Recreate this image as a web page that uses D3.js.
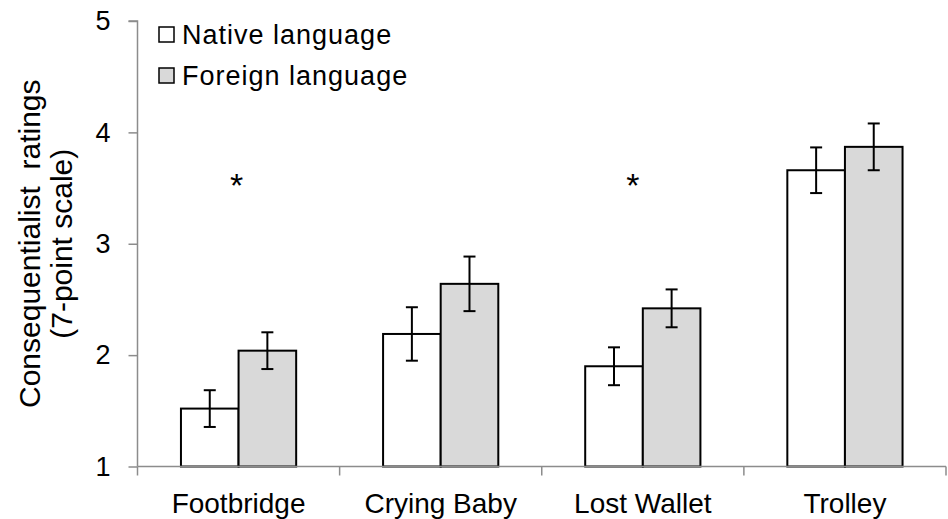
<!DOCTYPE html>
<html>
<head>
<meta charset="utf-8">
<script src="https://cdn.jsdelivr.net/npm/d3@7"></script>
<style>
  body { margin: 0; background: #fff; }
  svg text { font-family: "Liberation Sans", Arial, sans-serif; fill: #000; }
</style>
</head>
<body>
<div id="chart"></div>
<script>
// data
const categories = ["Footbridge", "Crying Baby", "Lost Wallet", "Trolley"];
const series = ["Native language", "Foreign language"];
const nativeMeans = [1.52, 2.19, 1.90, 3.66];
const foreignMeans = [2.04, 2.64, 2.42, 3.87];
const nativeErr = [0.165, 0.24, 0.17, 0.205];
const foreignErr = [0.165, 0.245, 0.17, 0.21];
const starred = ["Footbridge", "Lost Wallet"];
const yTicks = [1, 2, 3, 4, 5];

const width = 948, height = 519;
const margin = { top: 21, right: 2, bottom: 52.5, left: 137.5 };

const rows = [];
categories.forEach((c, i) => {
  rows.push({ cat: c, s: series[0], v: nativeMeans[i], e: nativeErr[i] });
  rows.push({ cat: c, s: series[1], v: foreignMeans[i], e: foreignErr[i] });
});

const svg = d3.select("#chart").append("svg")
  .attr("width", width)
  .attr("height", height);

const x0 = d3.scaleBand()
  .domain(categories)
  .range([margin.left, width - margin.right])
  .paddingInner(0.43)
  .paddingOuter(0.215);

const x1 = d3.scaleBand()
  .domain(series)
  .range([0, x0.bandwidth()]);

const y = d3.scaleLinear()
  .domain([1, 5])
  .range([height - margin.bottom, margin.top]);

const fill = d3.scaleOrdinal().domain(series).range(["#ffffff", "#d9d9d9"]);
const axisColor = "#8c8c8c";

// y axis
const yAxis = svg.append("g")
  .attr("transform", `translate(${margin.left},0)`)
  .call(d3.axisLeft(y).tickValues(yTicks).tickFormat(d3.format("d")).tickSize(9).tickPadding(18));
yAxis.selectAll("path, line").attr("stroke", axisColor).attr("stroke-width", 1.5);
yAxis.select(".domain").attr("d", `M-9,${y(5)}H0V${y(1)}`);
yAxis.selectAll("text").style("font-size", "27px").style("font-family", "Liberation Sans, Arial, sans-serif");

// y title
const yTitle = svg.append("text")
  .attr("transform", `translate(40,${(y(1) + y(5)) / 2}) rotate(-90)`)
  .attr("text-anchor", "middle")
  .style("font-size", "30px");
yTitle.append("tspan").attr("x", 0).attr("y", 0).text("Consequentialist  ratings").style("white-space", "pre");
yTitle.append("tspan").attr("x", 0).attr("y", 32).text("(7-point scale)");

// bars
const bandStart = c => x0(c) - (x0.step() - x0.bandwidth()) / 2;

svg.append("g").selectAll("rect")
  .data(rows)
  .join("rect")
  .attr("x", d => x0(d.cat) + x1(d.s))
  .attr("y", d => y(d.v))
  .attr("width", x1.bandwidth())
  .attr("height", d => y(1) - y(d.v))
  .attr("fill", d => fill(d.s))
  .attr("stroke", "#000")
  .attr("stroke-width", 2);

// error bars
const eb = svg.append("g").selectAll("g")
  .data(rows)
  .join("g")
  .attr("transform", d => `translate(${x0(d.cat) + x1(d.s) + x1.bandwidth() / 2},0)`)
  .attr("stroke", "#000")
  .attr("stroke-width", 2);
eb.append("line").attr("y1", d => y(d.v - d.e)).attr("y2", d => y(d.v + d.e));
eb.append("line").attr("x1", -6).attr("x2", 6).attr("y1", d => y(d.v + d.e)).attr("y2", d => y(d.v + d.e));
eb.append("line").attr("x1", -6).attr("x2", 6).attr("y1", d => y(d.v - d.e)).attr("y2", d => y(d.v - d.e));

// x axis
const xAxis = svg.append("g")
  .attr("transform", `translate(0,${y(1)})`);
xAxis.append("line")
  .attr("x1", margin.left).attr("x2", width - margin.right)
  .attr("stroke", axisColor).attr("stroke-width", 1.5);
xAxis.selectAll(".bound")
  .data(categories.map(bandStart).concat([width - margin.right]))
  .join("line")
  .attr("class", "bound")
  .attr("x1", d => d).attr("x2", d => d)
  .attr("y1", 0).attr("y2", 9)
  .attr("stroke", axisColor).attr("stroke-width", 1.5);
xAxis.selectAll(".cat")
  .data(categories)
  .join("text")
  .attr("class", "cat")
  .attr("x", d => x0(d) + x0.bandwidth() / 2)
  .attr("y", 46)
  .attr("text-anchor", "middle")
  .style("font-size", "28px")
  .text(d => d);

// significance stars
svg.selectAll(".star")
  .data(starred)
  .join("text")
  .attr("class", "star")
  .attr("x", (d, i) => x0(d) + x0.bandwidth() / 2 - (i ? 10 : 2))
  .attr("y", y(3.6) + 20)
  .attr("text-anchor", "middle")
  .style("font-size", "34px")
  .text("*");

// legend
const legend = svg.append("g").selectAll("g")
  .data(series)
  .join("g")
  .attr("transform", (d, i) => `translate(159,${27 + i * 41})`);
legend.append("rect")
  .attr("width", 15).attr("height", 15)
  .attr("fill", d => fill(d))
  .attr("stroke", "#000").attr("stroke-width", 1.5);
legend.append("text")
  .attr("x", 23).attr("y", 17)
  .style("font-size", "27px")
  .style("letter-spacing", "1px")
  .text(d => d);
</script>
</body>
</html>
